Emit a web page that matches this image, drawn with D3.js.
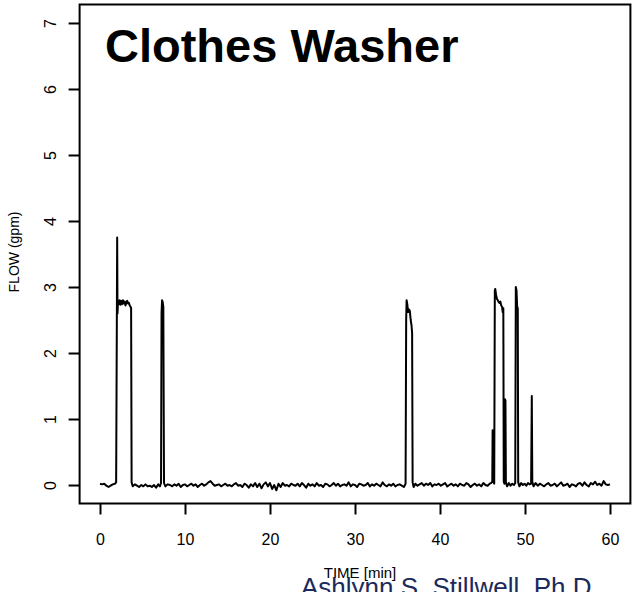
<!DOCTYPE html>
<html>
<head>
<meta charset="utf-8">
<script src="https://cdn.jsdelivr.net/npm/d3@7"></script>
<style>
html,body{margin:0;padding:0;background:#fff;}
svg{display:block;font-family:"Liberation Sans",Arial,Helvetica,sans-serif;}
</style>
</head>
<body>
<svg id="chart" width="641" height="592"></svg>
<script>
// ---- data ----
const title = "Clothes Washer";
const xLabel = "TIME [min]";
const yLabel = "FLOW (gpm)";
const credit = "Ashlynn S. Stillwell, Ph.D.";
const xTicks = [0, 10, 20, 30, 40, 50, 60];
const yTicks = [0, 1, 2, 3, 4, 5, 6, 7];

const timeMin = [
  0,0.25,0.5,0.75,1.0,1.25,1.5,1.75,1.9,
  1.98,2.02,2.06,2.12,2.2,2.3,2.4,2.5,2.6,2.7,2.8,2.9,3.0,3.1,3.2,3.3,3.4,3.5,3.6,3.66,3.72,
  3.85,4.1,4.35,4.6,4.85,5.1,5.35,5.6,5.85,6.1,6.35,6.6,6.85,7.05,7.18,
  7.24,7.3,7.38,7.45,7.5,7.53,
  7.7,7.95,
  8.25,8.5,8.75,9.0,9.25,9.5,9.75,10.0,10.25,10.5,
  10.75,11.0,11.25,11.5,11.75,12.0,12.25,12.5,12.75,13.0,
  13.25,13.5,13.75,14.0,14.25,14.5,14.75,15.0,15.25,15.5,
  15.75,16.0,16.25,16.5,16.75,17.0,17.25,17.5,17.75,18.0,
  18.25,18.5,18.75,19.0,19.25,19.5,19.75,20.0,20.25,20.5,
  20.75,21.0,21.25,21.5,21.75,22.0,22.25,22.5,22.75,23.0,
  23.25,23.5,23.75,24.0,24.25,24.5,24.75,25.0,25.25,25.5,
  25.75,26.0,26.25,26.5,26.75,27.0,27.25,27.5,27.75,28.0,
  28.25,28.5,28.75,29.0,29.25,29.5,29.75,30.0,30.25,30.5,
  30.75,31.0,31.25,31.5,31.75,32.0,32.25,32.5,32.75,33.0,
  33.25,33.5,33.75,34.0,34.25,34.5,34.75,35.0,35.25,35.5,
  35.75,35.95,
  36.02,36.07,36.15,36.25,36.35,36.45,36.55,36.65,36.72,36.78,
  36.9,
  37.1,37.35,37.6,37.85,38.1,38.35,38.6,38.85,39.1,39.35,
  39.6,39.85,40.1,40.35,40.6,40.85,41.1,41.35,41.6,41.85,
  42.1,42.35,42.6,42.85,43.1,43.35,43.6,43.85,44.1,44.35,
  44.6,44.85,45.1,45.35,45.6,45.85,
  46.0,46.15,46.19,46.24,46.38,46.45,46.5,46.6,46.7,46.8,46.9,47.0,47.1,47.2,47.3,47.38,47.45,47.5,
  47.58,47.64,47.7,47.75,47.9,48.1,48.3,48.5,48.7,48.85,
  48.92,49.0,49.08,49.15,49.2,
  49.35,49.55,49.75,49.95,50.15,50.35,50.55,50.72,50.8,50.86,51.0,
  51.25,51.5,51.75,52.0,52.25,52.5,52.75,53.0,53.25,53.5,
  53.75,54.0,54.25,54.5,54.75,55.0,55.25,55.5,55.75,56.0,
  56.25,56.5,56.75,57.0,57.25,57.5,57.75,58.0,58.25,58.5,
  58.75,59.0,59.25,59.5,59.75,60.0
];

const flowGpm = [
  0.02,0.01,0.02,-0.01,-0.03,-0.01,0.01,0.02,0.04,
  2.45,3.75,2.6,2.78,2.74,2.8,2.73,2.79,2.74,2.8,2.75,2.78,2.72,2.77,2.79,2.75,2.76,2.72,2.7,2.68,0.04,
  -0.02,0.01,-0.01,-0.03,0.0,-0.02,0.01,-0.02,-0.01,-0.03,0.0,-0.04,0.01,-0.02,0.03,
  2.6,2.8,2.77,2.7,1.0,0.03,
  -0.02,0.01,
  0.00,-0.02,0.01,-0.01,0.02,-0.03,0.00,0.01,-0.02,0.00,
  0.02,-0.01,0.01,-0.03,0.00,0.02,-0.01,0.01,0.04,0.06,
  0.02,-0.01,0.00,0.01,-0.02,0.00,0.02,-0.01,0.00,-0.02,
  0.01,0.03,-0.01,0.00,-0.03,0.02,0.00,-0.04,0.01,-0.02,
  0.03,-0.03,0.02,-0.05,0.01,0.04,-0.02,0.03,-0.06,0.00,
  -0.08,0.02,-0.03,0.03,-0.01,0.00,-0.02,0.02,0.00,-0.01,
  0.02,-0.02,0.03,0.00,-0.04,0.02,-0.01,0.01,-0.02,0.03,
  -0.01,0.00,-0.03,0.02,0.01,-0.02,0.00,0.03,-0.01,0.02,
  -0.02,0.00,0.01,-0.01,0.04,-0.02,0.01,0.00,-0.03,0.02,
  0.01,-0.01,0.00,0.03,-0.02,0.01,-0.01,0.02,0.00,-0.02,
  0.04,0.00,-0.02,0.01,-0.01,0.02,-0.02,0.00,0.01,-0.01,
  -0.03,0.02,
  2.5,2.8,2.74,2.62,2.66,2.64,2.5,2.42,2.3,0.04,
  -0.03,
  0.02,-0.01,0.01,0.03,-0.01,0.02,0.00,0.03,-0.02,0.01,
  0.00,0.02,-0.01,0.01,0.03,-0.02,0.00,0.02,-0.01,0.01,
  -0.02,0.02,0.00,-0.01,0.03,0.01,-0.03,0.00,0.02,-0.01,
  0.01,-0.02,0.03,0.00,-0.01,0.02,
  0.03,0.05,0.83,0.06,0.02,2.95,2.97,2.88,2.82,2.8,2.77,2.76,2.78,2.72,2.7,2.62,2.68,0.05,
  0.02,1.3,1.28,0.04,-0.02,0.03,-0.01,0.02,0.0,0.03,
  3.0,2.95,2.7,2.68,0.04,
  -0.02,0.03,0.0,0.02,-0.01,0.03,0.01,0.02,1.35,0.05,-0.02,
  0.03,-0.01,0.02,0.00,-0.02,0.01,0.03,-0.01,0.00,0.02,
  -0.02,0.01,0.04,-0.01,0.00,0.02,-0.03,0.01,0.00,-0.02,
  0.02,0.03,-0.01,0.04,0.00,-0.02,0.03,0.01,0.05,0.00,
  0.02,-0.01,0.06,0.01,0.00,0.01
];

// ---- layout ----
const svg = d3.select("#chart");
const plot = {left: 79.6, right: 630.4, top: 4.5, bottom: 503.5};

const x = d3.scaleLinear().domain([-2.4, 62.4]).range([plot.left, plot.right]);
const y = d3.scaleLinear().domain([-0.28, 7.28]).range([plot.bottom, plot.top]);

// series line
const series = timeMin.map((t, i) => [t, flowGpm[i]]);
svg.append("path")
  .datum(series)
  .attr("fill", "none")
  .attr("stroke", "#000")
  .attr("stroke-width", 2)
  .attr("stroke-linejoin", "round")
  .attr("d", d3.line().x(d => x(d[0])).y(d => y(d[1])));

// box
svg.append("rect")
  .attr("x", plot.left).attr("y", plot.top)
  .attr("width", plot.right - plot.left).attr("height", plot.bottom - plot.top)
  .attr("fill", "none").attr("stroke", "#000").attr("stroke-width", 2);

// x axis
const xAxis = d3.axisBottom(x).tickValues(xTicks).tickSize(11).tickPadding(20).tickFormat(d3.format("d"));
const gx = svg.append("g").attr("transform", `translate(0,${plot.bottom})`).call(xAxis);
gx.select(".domain").remove();
gx.selectAll(".tick line").attr("stroke", "#000").attr("stroke-width", 2);
gx.selectAll(".tick text").attr("fill", "#000").style("font-size", "16px").attr("dy", "0.66em");

// y axis
const yAxis = d3.axisLeft(y).tickValues(yTicks).tickSize(11).tickFormat(d3.format("d"));
const gy = svg.append("g").attr("transform", `translate(${plot.left},0)`).call(yAxis);
gy.select(".domain").remove();
gy.selectAll(".tick line").attr("stroke", "#000").attr("stroke-width", 2);
gy.selectAll(".tick text")
  .attr("x", null).attr("dy", null)
  .attr("fill", "#000")
  .style("font-size", "16px")
  .attr("text-anchor", "middle")
  .attr("transform", "translate(-24,0) rotate(-90)");

// title
svg.append("text")
  .attr("x", 105).attr("y", 62)
  .style("font-size", "47px").style("font-weight", "bold")
  .attr("fill", "#000")
  .text(title);

// axis labels
svg.append("text")
  .attr("x", 360).attr("y", 578)
  .attr("text-anchor", "middle")
  .style("font-size", "15px")
  .attr("fill", "#000")
  .text(xLabel);

svg.append("text")
  .attr("transform", "translate(19,252) rotate(-90)")
  .attr("text-anchor", "middle")
  .style("font-size", "14px")
  .attr("fill", "#000")
  .text(yLabel);

// credit
svg.append("text")
  .attr("x", 301).attr("y", 596)
  .style("font-size", "26px")
  .attr("fill", "#1b2a5a")
  .text(credit);
</script>
</body>
</html>
